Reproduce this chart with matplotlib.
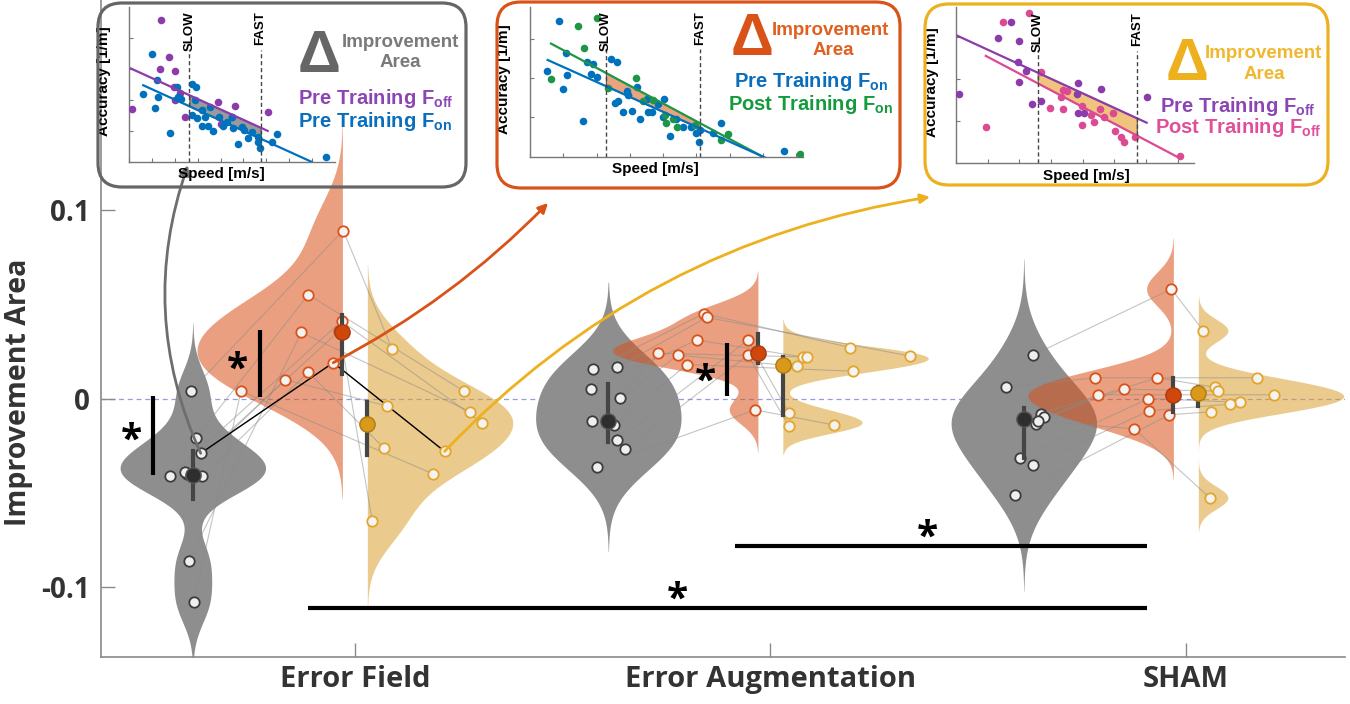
import numpy as np
import matplotlib
matplotlib.use('Agg')
import matplotlib.pyplot as plt
from matplotlib.patches import FancyBboxPatch

plt.rcParams['font.family'] = ['Open Sans', 'DejaVu Sans']
plt.rcParams['mathtext.fontset'] = 'custom'
plt.rcParams['mathtext.bf'] = 'Liberation Sans:bold'
plt.rcParams['mathtext.rm'] = 'Liberation Sans'

# ---------------- main data ----------------
groups = ['Error Field', 'Error Augmentation', 'SHAM']

# per subject improvement area (gray: pre Foff vs pre Fon, orange: Fon post vs pre, yellow: Foff post vs pre)
gray_vals = [[0.004, -0.021, -0.029, -0.041, -0.040, -0.041, -0.086, -0.108, -0.039],
             [0.0155, 0.0166, 0.0053, 0.0005, -0.0118, -0.014, -0.022, -0.0267, -0.036],
             [0.023, 0.006, -0.008, -0.010, -0.0134, -0.0315, -0.035, -0.051, -0.012]]
gray_dx = [[-0.005, 0.007, 0.019, -0.055, -0.014, 0.022, -0.010, 0.002, -0.019],
           [-0.036, 0.022, -0.041, 0.027, -0.039, 0.014, 0.022, 0.041, -0.027],
           [0.022, -0.043, 0.041, 0.048, 0.029, -0.010, 0.022, -0.022, 0.034]]
orange_vals = [[0.089, 0.055, 0.019, 0.041, 0.010, 0.014, 0.035, 0.004, 0.036],
               [0.045, 0.043, 0.031, 0.024, 0.023, 0.018, 0.031, 0.023, -0.006],
               [0.058, 0.011, 0.011, 0.005, 0.002, 0.000, -0.0064, -0.0086, -0.016]]
orange_dx = [[0.002, -0.082, -0.022, -0.002, -0.138, -0.082, -0.099, -0.244, -0.007],
             [-0.130, -0.123, -0.147, -0.241, -0.193, -0.171, -0.024, -0.024, -0.007],
             [-0.005, -0.188, -0.039, -0.118, -0.181, -0.060, -0.058, -0.010, -0.094]]
yellow_vals = [[0.026, 0.004, -0.028, -0.013, -0.004, -0.026, -0.007, -0.040, -0.065],
               [0.027, 0.0225, 0.022, 0.022, 0.017, 0.0145, -0.0075, -0.0145, -0.014],
               [0.036, 0.011, 0.006, 0.004, 0.002, -0.002, -0.003, -0.007, -0.0525]]
yellow_dx = [[0.060, 0.232, 0.186, 0.277, 0.048, 0.039, 0.248, 0.159, 0.012],
             [0.162, 0.306, 0.048, 0.058, 0.034, 0.169, 0.014, 0.014, 0.123],
             [0.012, 0.142, 0.039, 0.048, 0.183, 0.101, 0.077, 0.031, 0.027]]

gray_mean = [-0.0405, -0.012, -0.011]
gray_lo = [-0.053, -0.023, -0.0315]
gray_hi = [-0.028, 0.0077, -0.005]
orange_mean = [0.035, 0.024, 0.002]
orange_lo = [0.013, 0.019, -0.007]
orange_hi = [0.044, 0.034, 0.011]
yellow_mean = [-0.0133, 0.0176, 0.0027]
yellow_lo = [-0.030, -0.0086, -0.004]
yellow_hi = [-0.002, 0.022, 0.006]

# kde bandwidths
gray_bw = [0.012, 0.015, 0.017]
orange_bw = [0.019, 0.0075, 0.009]
yellow_bw = [0.015, 0.005, 0.006]

example_subject = 2  # subject shown in the insets

# significance marks
vsig_x = [0.514, 0.771, 1.895]
vsig_y0 = [0.0013, 0.0008, 0.0013]
vsig_y1 = [-0.0405, 0.0363, 0.0294]
vstar_x = [0.461, 0.716, 1.844]
vstar_y = [-0.0225, 0.0148, 0.0085]
hsig_x0 = [0.887, 1.915]
hsig_x1 = [2.906, 2.906]
hsig_y = [-0.111, -0.078]
hstar_x = [1.777, 2.379]
hstar_y = [-0.107, -0.0742]

GRAY = '#8e8e8e'
ORANGE = '#D95319'
YELLOW = '#EDB120'
YELLOW_FILL = '#D9A030'


def kde(vals, bw, grid):
    vals = np.asarray(vals)
    return np.exp(-0.5 * ((grid[:, None] - vals[None, :]) / bw) ** 2).sum(axis=1)


def violin(ax, x0, vals, bw, width, side, color, alpha, z):
    y = np.linspace(min(vals) - 3 * bw, max(vals) + 3 * bw, 400)
    d = kde(vals, bw, y)
    d = d / d.max() * width
    if side == 'both':
        ax.fill_betweenx(y, x0 - d, x0 + d, color=color, alpha=alpha, lw=0, zorder=z)
    elif side == 'left':
        ax.fill_betweenx(y, x0 - d, x0, color=color, alpha=alpha, lw=0, zorder=z)
    else:
        ax.fill_betweenx(y, x0, x0 + d, color=color, alpha=alpha, lw=0, zorder=z)


fig = plt.figure(figsize=(13.5, 7.04), dpi=100)
ax = fig.add_axes([101 / 1350, 47 / 704, 1244 / 1350, 657 / 704])
ax.set_xlim(0.389, 3.383)
ax.set_ylim(-0.1369, 0.2111)

ax.axhline(0, color='#9a9ae0', lw=0.9, ls=(0, (4, 3)), zorder=1)

for g in range(3):
    c = g + 1
    xg, xo, xy = c - 0.39, c - 0.03, c + 0.03
    violin(ax, xg, gray_vals[g], gray_bw[g], 0.175, 'both', GRAY, 1.0, 2)
    violin(ax, xo, orange_vals[g], orange_bw[g], 0.35, 'left', ORANGE, 0.55, 3)
    violin(ax, xy, yellow_vals[g], yellow_bw[g], 0.35, 'right', YELLOW_FILL, 0.55, 3)

    gx = [xg + d for d in gray_dx[g]]
    ox = [xo + d for d in orange_dx[g]]
    yx = [xy + d for d in yellow_dx[g]]
    for i in range(len(gray_vals[g])):
        ax.plot([gx[i], ox[i], yx[i]],
                [gray_vals[g][i], orange_vals[g][i], yellow_vals[g][i]],
                color='#8a8a8a', lw=0.8, alpha=0.5, zorder=4)
    if g == 0:
        i = example_subject
        ax.plot([gx[i], ox[i], yx[i]],
                [gray_vals[g][i], orange_vals[g][i], yellow_vals[g][i]],
                color='black', lw=1.0, zorder=5)

    ax.plot(gx, gray_vals[g], 'o', ms=7.5, mfc='#efefef', mec='#3c3c3c', mew=1.3, zorder=6)
    ax.plot(ox, orange_vals[g], 'o', ms=7.5, mfc='#f3f3f3', mec=ORANGE, mew=1.3, zorder=6)
    ax.plot(yx, yellow_vals[g], 'o', ms=7.5, mfc='#f3f3f3', mec='#E3A52A', mew=1.3, zorder=6)

    # mean and spread
    ax.plot([xg, xg], [gray_lo[g], gray_hi[g]], color='#454545', lw=3, zorder=7)
    ax.plot([xo, xo], [orange_lo[g], orange_hi[g]], color='#454545', lw=3, zorder=7)
    ax.plot([xy, xy], [yellow_lo[g], yellow_hi[g]], color='#454545', lw=3, zorder=7)
    ax.plot(xg, gray_mean[g], 'o', ms=11, mfc='#2e2e2e', mec='#555555', mew=1, zorder=8)
    ax.plot(xo, orange_mean[g], 'o', ms=11, mfc='#D0470C', mec='#A83A10', mew=1, zorder=8)
    ax.plot(xy, yellow_mean[g], 'o', ms=11, mfc='#D99A1C', mec='#B07A10', mew=1, zorder=8)

# significance
for i in range(3):
    ax.plot([vsig_x[i], vsig_x[i]], [vsig_y0[i], vsig_y1[i]], color='black', lw=3, zorder=9,
            solid_capstyle='butt')
    ax.text(vstar_x[i], vstar_y[i], '*', fontsize=28, fontweight='bold', ha='center',
            va='center', zorder=9)
for i in range(2):
    ax.plot([hsig_x0[i], hsig_x1[i]], [hsig_y[i], hsig_y[i]], color='black', lw=3, zorder=9,
            solid_capstyle='butt')
    ax.text(hstar_x[i], hstar_y[i], '*', fontsize=28, fontweight='bold', ha='center',
            va='center', zorder=9)

# axes styling
for s in ['top', 'right']:
    ax.spines[s].set_visible(False)
for s in ['left', 'bottom']:
    ax.spines[s].set_color('#8a8a8a')
    ax.spines[s].set_linewidth(1.2)
ax.set_xticks([1, 2, 3], groups)
ax.set_yticks([-0.1, 0, 0.1], ['-0.1', '0', '0.1'])
ax.tick_params(direction='in', length=10, width=1, color='#8a8a8a', labelcolor='#333333',
               labelsize=20)
ax.tick_params(axis='x', labelsize=21, pad=6)
ax.tick_params(axis='y', pad=8)
for t in ax.get_xticklabels() + ax.get_yticklabels():
    t.set_fontweight('bold')
ax.set_ylabel('Improvement Area', fontsize=20.5, fontweight='bold', color='#333333')
ax.yaxis.set_label_coords(-0.0547, 0.403)
ax.set_facecolor('none')

# arrows from the example subject to the insets
i = example_subject
gpt = (1 - 0.39 + gray_dx[0][i], gray_vals[0][i])
opt = (1 - 0.03 + orange_dx[0][i], orange_vals[0][i])
ypt = (1 + 0.03 + yellow_dx[0][i], yellow_vals[0][i])
for start, end, col, rad in [(gpt, (188, 704 - 165), '#6e6e6e', -0.2),
                             (opt, (548, 704 - 203), ORANGE, 0.08),
                             (ypt, (930, 704 - 197), YELLOW, -0.17)]:
    ax.annotate('', xy=end, xycoords='figure pixels', xytext=start, textcoords='data',
                arrowprops=dict(arrowstyle='-|>', color=col, lw=2, mutation_scale=14,
                                shrinkA=0, shrinkB=0,
                                connectionstyle='arc3,rad=%s' % rad),
                annotation_clip=False, zorder=10)

# ---------------- inset data (speed, accuracy) ----------------
PURPLE = '#8C3CAA'
BLUE = '#0072BD'
GREEN = '#1E9646'
PINK = '#DC4A93'

in1_off_s = [1.37, 1.74, 1.34, 2.0, 1.96, 2.22, 2.0, 0.13, 2.44, 3.90, 4.63, 6.09, 4.01, 4.51]
in1_off_a = [4.57, 3.37, 2.99, 2.92, 2.40, 2.23, 1.99, 1.69, 1.43, 1.94, 1.80, 1.59, 1.22, 1.43]
in1_on_s = [0.98, 1.21, 0.58, 1.27, 1.12, 1.78, 2.07, 2.15, 2.26, 2.73, 2.91, 2.88, 2.73, 2.95,
            3.17, 3.31, 3.53, 3.46, 3.17, 3.68, 3.93, 4.12, 4.26, 4.48, 4.55, 4.74, 4.92, 5.04,
            5.18, 5.36, 5.65, 5.72, 5.65, 6.45, 6.23, 8.60]
in1_on_a = [3.46, 2.63, 2.20, 2.08, 1.74, 0.91, 2.42, 2.10, 2.01, 2.51, 2.42, 1.99, 1.51, 1.40,
            1.67, 1.43, 1.77, 1.15, 1.15, 0.99, 1.45, 1.15, 1.29, 1.45, 1.08, 0.57, 1.13, 1.02,
            0.78, 0.97, 0.65, 0.43, 0.81, 0.88, 0.62, 0.16]

in2_pre_s = [0.87, 0.50, 1.07, 1.10, 1.00, 1.70, 1.90, 1.82, 2.00, 1.58, 2.43, 2.60, 3.20, 2.63,
             2.55, 2.80, 3.05, 3.30, 2.95, 2.90, 3.50, 3.55, 3.65, 3.85, 4.03, 4.00, 4.20, 4.40,
             4.60, 4.85, 4.98, 5.08, 5.10, 5.50, 5.73, 7.63]
in2_pre_a = [3.46, 2.19, 2.64, 2.08, 1.72, 2.40, 2.36, 2.10, 2.02, 0.91, 2.48, 2.40, 1.76, 1.42,
             1.36, 1.13, 1.17, 0.97, 1.57, 1.68, 1.47, 1.13, 1.14, 1.34, 1.46, 1.02, 0.53, 0.97,
             0.75, 0.76, 0.61, 0.38, 0.69, 0.59, 0.86, 0.15]
in2_post_s = [1.43, 2.02, 1.62, 0.63, 2.35, 3.17, 3.40, 3.70, 4.05, 4.07, 4.30, 4.43, 4.95, 5.95,
              5.73, 8.10]
in2_post_a = [3.31, 3.52, 2.77, 1.97, 1.74, 1.99, 1.42, 1.44, 1.06, 0.85, 0.97, 0.76, 0.81, 0.58,
              0.42, 0.08]

in3_pre_s = [1.73, 1.34, 1.99, 1.95, 2.21, 2.00, 0.11, 2.41, 2.67, 3.86, 4.58, 3.81, 3.86, 4.05,
             6.02]
in3_pre_a = [3.35, 2.96, 2.90, 2.41, 2.20, 1.94, 1.64, 1.40, 1.48, 1.91, 1.76, 1.64, 1.19, 1.19,
             1.57]
in3_post_s = [2.32, 1.49, 2.67, 3.37, 3.49, 3.33, 2.97, 3.37, 0.94, 3.97, 3.99, 4.25, 4.36, 4.55,
              4.68, 4.95, 5.02, 5.21, 5.32, 5.65, 7.07]
in3_post_a = [3.56, 3.34, 2.17, 1.74, 1.72, 1.57, 1.32, 1.29, 0.85, 1.36, 0.92, 1.15, 0.99, 1.28,
              1.09, 1.19, 0.77, 0.63, 0.51, 0.62, 0.18]

# regression lines: slope, intercept, speed range
in1_off_fit = (-0.336, 3.03, 0.07, 6.06)
in1_on_fit = (-0.335, 2.67, 0.61, 7.99)
in2_pre_fit = (-0.380, 2.66, 0.53, 7.05)
in2_post_fit = (-0.452, 3.16, 0.63, 7.05)
in3_pre_fit = (-0.345, 3.04, 0.05, 6.02)
in3_post_fit = (-0.396, 2.92, 0.94, 7.02)

slow_speed = [2.63, 2.28, 2.58]
fast_speed = [5.75, 5.10, 5.71]


def fit_line(fit, s):
    return fit[1] + fit[0] * np.asarray(s)


def px_rect(l, t, r, b):
    return [l / 1350, 1 - b / 704, (r - l) / 1350, (b - t) / 704]


def inset(rect, xlim, ylim, n_xt, yt, series, fits, slow, fast, fillc, lab_x, lab_y):
    a = fig.add_axes(px_rect(*rect))
    a.set_facecolor('none')
    a.set_xlim(*xlim)
    a.set_ylim(*ylim)
    for sp in ['top', 'right']:
        a.spines[sp].set_visible(False)
    for sp in ['left', 'bottom']:
        a.spines[sp].set_color('#777777')
        a.spines[sp].set_linewidth(1)
    a.set_xticks(np.arange(n_xt))
    a.set_yticks(yt)
    a.tick_params(direction='in', length=3, width=0.8, color='#777777',
                  labelbottom=False, labelleft=False)
    for s, acc, col in series:
        a.scatter(s, acc, s=30, color=col, lw=0, zorder=3)
    sf = np.linspace(slow, fast, 50)
    a.fill_between(sf, fit_line(fits[1][0], sf), fit_line(fits[0][0], sf),
                   color=fillc, lw=0.8, edgecolor='#555555', zorder=2)
    for fit, col in fits:
        ss = np.array([fit[2], fit[3]])
        a.plot(ss, fit_line(fit, ss), color=col, lw=1.6, zorder=4)
    top = ylim[1]
    for sv, name in [(slow, 'SLOW'), (fast, 'FAST')]:
        a.plot([sv, sv], [0, top * 0.72], color='#444444', lw=1, ls=(0, (3, 2)), zorder=5)
        a.text(sv, top * 0.97, name, rotation=90, ha='center', va='top', fontsize=9.5,
               fontweight='bold', family='Liberation Sans', zorder=5)
    a.set_xlabel('Speed [m/s]', fontsize=11, fontweight='bold', family='Liberation Sans')
    a.set_ylabel('Accuracy [1/m]', fontsize=11, fontweight='bold', family='Liberation Sans')
    a.xaxis.set_label_coords(*lab_x)
    a.yaxis.set_label_coords(*lab_y)
    return a


inset((129.3, 6.7, 334.8, 161.7), (0, 9), (0, 5), 9, [1, 2, 3, 4],
      [(in1_off_s, in1_off_a, PURPLE), (in1_on_s, in1_on_a, BLUE)],
      [(in1_off_fit, PURPLE), (in1_on_fit, BLUE)],
      slow_speed[0], fast_speed[0], '#9a9a9a', (0.45, -0.035), (-0.09, 0.52))
inset((530, 7.2, 803, 156.7), (0, 8.2), (0, 3.8), 9, [1, 2, 3],
      [(in2_pre_s, in2_pre_a, BLUE), (in2_post_s, in2_post_a, GREEN)],
      [(in2_post_fit, GREEN), (in2_pre_fit, BLUE)],
      slow_speed[1], fast_speed[1], '#E9A47E', (0.46, -0.035), (-0.07, 0.52))
inset((956, 7.3, 1193.5, 163.3), (0, 7.5), (0, 3.7), 8, [1, 2, 3],
      [(in3_pre_s, in3_pre_a, PURPLE), (in3_post_s, in3_post_a, PINK)],
      [(in3_pre_fit, PURPLE), (in3_post_fit, PINK)],
      slow_speed[2], fast_speed[2], '#F0C47C', (0.55, -0.035), (-0.07, 0.52))

# inset frames
for (l, t, r, b), col in [((98, 3, 466, 187), '#666666'),
                          ((497, 2, 900, 188), ORANGE),
                          ((925, 4, 1328, 185), YELLOW)]:
    fig.add_artist(FancyBboxPatch((l / 100, (704 - b) / 100), (r - l) / 100, (b - t) / 100,
                                  boxstyle='round,pad=0,rounding_size=0.24',
                                  transform=fig.dpi_scale_trans, fill=False,
                                  ec=col, lw=2.3))


def ftext(x, y, s, **kw):
    fig.text(x / 1350, 1 - y / 704, s, family='Liberation Sans', fontweight='bold',
             va='baseline', **kw)


# inset legends
ftext(319, 72, '\u0394', fontsize=43, color='#666666', ha='center')
ftext(400, 47, 'Improvement', fontsize=13.5, color='#7a7a7a', ha='center')
ftext(400, 67, 'Area', fontsize=13.5, color='#7a7a7a', ha='center')
ftext(298, 104, r'Pre Training F$_{\mathbf{off}}$', fontsize=14.5, color='#8C46B4', ha='left')
ftext(298, 127, r'Pre Training F$_{\mathbf{on}}$', fontsize=14.5, color='#0A6EBD', ha='left')

ftext(752, 55, '\u0394', fontsize=43, color=ORANGE, ha='center')
ftext(830, 35, 'Improvement', fontsize=13.5, color='#E0601F', ha='center')
ftext(833, 55, 'Area', fontsize=13.5, color='#E0601F', ha='center')
ftext(811, 87, r'Pre Training F$_{\mathbf{on}}$', fontsize=14.5, color='#0A6EBD', ha='center')
ftext(811, 110, r'Post Training F$_{\mathbf{on}}$', fontsize=14.5, color='#149B3C', ha='center')

ftext(1187, 80, '\u0394', fontsize=43, color=YELLOW, ha='center')
ftext(1263, 58, 'Improvement', fontsize=13.5, color='#F0B830', ha='center')
ftext(1264, 79, 'Area', fontsize=13.5, color='#F0B830', ha='center')
ftext(1238, 112, r'Pre Training F$_{\mathbf{off}}$', fontsize=14.5, color='#8C46B4', ha='center')
ftext(1238, 133, r'Post Training F$_{\mathbf{off}}$', fontsize=14.5, color='#E0509A', ha='center')

fig.savefig('out.png', dpi=100)
